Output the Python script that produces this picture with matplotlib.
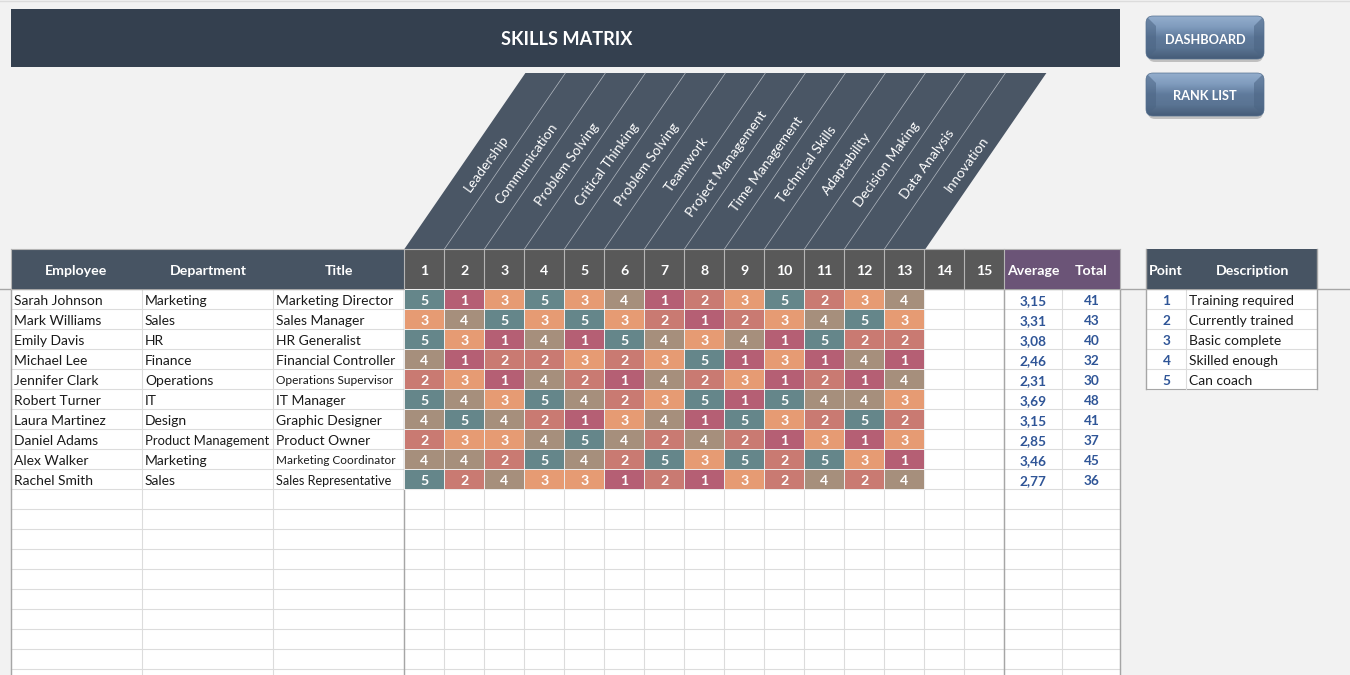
import numpy as np
import matplotlib
matplotlib.use('Agg')
import matplotlib.pyplot as plt
from matplotlib.colors import ListedColormap, BoundaryNorm, LinearSegmentedColormap
from matplotlib.patches import Rectangle, Polygon, FancyBboxPatch

plt.rcParams['font.family'] = ['Lato', 'DejaVu Sans']

employees = ['Sarah Johnson', 'Mark Williams', 'Emily Davis', 'Michael Lee', 'Jennifer Clark',
             'Robert Turner', 'Laura Martinez', 'Daniel Adams', 'Alex Walker', 'Rachel Smith']
departments = ['Marketing', 'Sales', 'HR', 'Finance', 'Operations',
               'IT', 'Design', 'Product Management', 'Marketing', 'Sales']
titles = ['Marketing Director', 'Sales Manager', 'HR Generalist', 'Financial Controller',
          'Operations Supervisor', 'IT Manager', 'Graphic Designer', 'Product Owner',
          'Marketing Coordinator', 'Sales Representative']
skills = ['Leadership', 'Communication', 'Problem Solving', 'Critical Thinking', 'Problem Solving',
          'Teamwork', 'Project Management', 'Time Management', 'Technical Skills', 'Adaptability',
          'Decision Making', 'Data Analysis', 'Innovation']
scores = [
    [5, 1, 3, 5, 3, 4, 1, 2, 3, 5, 2, 3, 4],
    [3, 4, 5, 3, 5, 3, 2, 1, 2, 3, 4, 5, 3],
    [5, 3, 1, 4, 1, 5, 4, 3, 4, 1, 5, 2, 2],
    [4, 1, 2, 2, 3, 2, 3, 5, 1, 3, 1, 4, 1],
    [2, 3, 1, 4, 2, 1, 4, 2, 3, 1, 2, 1, 4],
    [5, 4, 3, 5, 4, 2, 3, 5, 1, 5, 4, 4, 3],
    [4, 5, 4, 2, 1, 3, 4, 1, 5, 3, 2, 5, 2],
    [2, 3, 3, 4, 5, 4, 2, 4, 2, 1, 3, 1, 3],
    [4, 4, 2, 5, 4, 2, 5, 3, 5, 2, 5, 3, 1],
    [5, 2, 4, 3, 3, 1, 2, 1, 3, 2, 4, 2, 4],
]
averages = ['3,15', '3,31', '3,08', '2,46', '2,31', '3,69', '3,15', '2,85', '3,46', '2,77']
totals = [41, 43, 40, 32, 30, 48, 41, 37, 45, 36]
points = [1, 2, 3, 4, 5]
descriptions = ['Training required', 'Currently trained', 'Basic complete', 'Skilled enough', 'Can coach']
buttons = ['DASHBOARD', 'RANK LIST']

# Layout in pixels of the 1350x675 picture
col_x = [12, 143, 274, 405]
num_w = 40
num_x = np.arange(405, 1006, num_w)
avg_x = [1005, 1063, 1121]
row_h = 20
head_top, head_bot = 250, 290
rows_y = np.arange(head_bot, 691, row_h)
small_fonts = {'Operations Supervisor': 8.6, 'Marketing Coordinator': 8.5, 'Sales Representative': 9.1}

BG = '#f2f2f2'
HEAD = '#475463'
GRID = '#dcdcdc'
EDGE = '#a6a6a6'
BLUE = '#2f5597'
TXT = '#1a1a1a'

fig = plt.figure(figsize=(13.5, 6.75), dpi=100, facecolor=BG)
ax = fig.add_axes([0, 0, 1, 1])
ax.set_facecolor(BG)
ax.axis('off')

# thin line at the very top and the header line running past the tables
ax.plot([0, 1350], [2, 2], color='#dcdcdc', lw=1)
ax.plot([0, 1351], [head_bot, head_bot], color=EDGE, lw=1)

# title bar
ax.add_patch(Rectangle((11.6, 10), 1109, 58, color='#34404f', lw=0))
ax.text(567.5, 40.5, 'SKILLS MATRIX', color='white', fontsize=13.1, fontweight='bold', ha='center', va='center')

# slanted skill header
slant = 121
ax.add_patch(Polygon([(405, head_top), (405 + slant, 74), (926 + slant, 74), (926, head_top)],
                     closed=True, color='#4a5665', lw=0))
for i in range(1, len(skills)):
    x = 405 + i * num_w
    ax.plot([x, x + slant], [head_top, 74], color='#b4bac2', lw=0.5)
for i, s in enumerate(skills):
    ax.text(487.5 + i * num_w, 165, s, color='white', fontsize=10, rotation=54,
            rotation_mode='anchor', ha='center', va='center')

# table body
ax.add_patch(Rectangle((12, head_bot), 1109, 400, color='white', lw=0, zorder=1))
for y in rows_y:
    ax.plot([12, 1121], [y, y], color=GRID, lw=0.8, zorder=1.5)
for x in list(col_x[:3]) + list(num_x) + list(avg_x):
    ax.plot([x, x], [head_bot, 680], color=GRID, lw=0.8, zorder=1.5)
for x in [12, 405, 1005, 1121]:
    ax.plot([x, x], [head_bot, 680], color=EDGE, lw=1, zorder=1.6)

# header cells
ax.add_patch(Rectangle((12, head_top), 393, 40, color=HEAD, lw=0, zorder=2))
ax.add_patch(Rectangle((1005, head_top), 116, 40, color='#6b5477', lw=0, zorder=2))
ax.add_patch(Rectangle((405, head_top), 600, 40, facecolor='#595959', edgecolor='none', zorder=2))
for x in num_x:
    ax.plot([x, x], [head_top, head_bot], color='#b5b5b5', lw=0.8, zorder=3)
ax.plot([12, 1121], [head_top, head_top], color='#b5b5b5', lw=0.8, zorder=3)
ax.plot([12, 12], [head_top, head_bot], color='#b5b5b5', lw=0.8, zorder=3)
ax.plot([1121, 1121], [head_top, head_bot], color='#b5b5b5', lw=0.8, zorder=3)

for label, x in zip(['Employee', 'Department', 'Title'], [77, 209, 340]):
    ax.text(x, 272, label, color='white', fontsize=10.2, fontweight='bold', ha='center', va='center', zorder=4)
for i in range(15):
    ax.text(num_x[i] + num_w / 2, 272, str(i + 1), color='white', fontsize=10.2, fontweight='bold',
            ha='center', va='center', zorder=4)
ax.text(1034, 272, 'Average', color='white', fontsize=10.2, fontweight='bold', ha='center', va='center', zorder=4)
ax.text(1092, 272, 'Total', color='white', fontsize=10.2, fontweight='bold', ha='center', va='center', zorder=4)

# score cells
cmap = ListedColormap(['#b55f74', '#c97a72', '#e69b73', '#a68f7c', '#65868a'])
norm = BoundaryNorm([0.5, 1.5, 2.5, 3.5, 4.5, 5.5], 5)
ax.pcolormesh(num_x[:14], rows_y[:11], np.array(scores), cmap=cmap, norm=norm,
              edgecolors='#ececec', linewidth=0.5, zorder=2)

for r, row in enumerate(scores):
    yc = rows_y[r] + 12
    ax.text(14.6, yc, employees[r], color=TXT, fontsize=10, ha='left', va='center', zorder=4)
    ax.text(145.6, yc, departments[r], color=TXT, fontsize=9.4 if len(departments[r]) > 15 else 10,
            ha='left', va='center', zorder=4)
    ax.text(276.6, yc, titles[r], color=TXT, fontsize=small_fonts.get(titles[r], 10),
            ha='left', va='center', zorder=4)
    for c, v in enumerate(row):
        ax.text(num_x[c] + num_w / 2, yc, str(v), color='white', fontsize=10.2, fontweight='bold',
                ha='center', va='center', zorder=4)
    ax.text(1034, yc, averages[r], color=BLUE, fontsize=9.8, fontweight='bold', ha='center', va='center', zorder=4)
    ax.text(1092, yc, str(totals[r]), color=BLUE, fontsize=9.8, fontweight='bold', ha='center', va='center', zorder=4)

# legend table on the right
ax.add_patch(Rectangle((1147, head_bot), 171, 100, facecolor='white', edgecolor='none', zorder=1))
ax.add_patch(Rectangle((1147, head_top), 171, 40, color=HEAD, lw=0, zorder=2))
ax.text(1166.5, 272, 'Point', color='white', fontsize=10.2, fontweight='bold', ha='center', va='center', zorder=4)
ax.text(1253, 272, 'Description', color='white', fontsize=10.2, fontweight='bold', ha='center', va='center', zorder=4)
for i, (p, d) in enumerate(zip(points, descriptions)):
    y = head_bot + i * row_h
    ax.plot([1147, 1318], [y + row_h, y + row_h], color=GRID if i < 4 else EDGE, lw=0.8, zorder=1.5)
    ax.text(1167, y + 12, str(p), color=BLUE, fontsize=9.8, fontweight='bold', ha='center', va='center', zorder=4)
    ax.text(1189.6, y + 12, d, color=TXT, fontsize=10, ha='left', va='center', zorder=4)
ax.plot([1187, 1187], [head_bot, 390], color=GRID, lw=0.8, zorder=1.5)
ax.plot([1147, 1147], [head_top, 390], color=EDGE, lw=1, zorder=3)
ax.plot([1318, 1318], [head_top, 390], color=EDGE, lw=1, zorder=3)

# buttons: vertical shine plus bevelled sides
shine = LinearSegmentedColormap.from_list('shine', ['#93adcc', '#7f9bbd', '#5f7a9b', '#5a7493', '#465d79'])
for label, top in zip(buttons, [17, 74]):
    left = 1146.6
    shadow = FancyBboxPatch((left + 2, top + 3), 115, 43, boxstyle='round,pad=0,rounding_size=7',
                            facecolor='#b0b0b0', edgecolor='none', alpha=0.75, zorder=4)
    ax.add_patch(shadow)
    box = FancyBboxPatch((left, top), 118, 43, boxstyle='round,pad=0,rounding_size=7',
                         facecolor='none', edgecolor='#55708f', lw=0.5, zorder=6)
    ax.add_patch(box)
    im = ax.imshow(np.linspace(0, 1, 44).reshape(-1, 1), cmap=shine, aspect='auto',
                   extent=(left, left + 118, top + 43, top), zorder=5)
    im.set_clip_path(box)
    for pts in ([(left, top), (left + 10, top + 10), (left + 10, top + 34), (left, top + 43)],
                [(left + 118, top), (left + 108, top + 10), (left + 108, top + 34), (left + 118, top + 43)]):
        bevel = Polygon(pts, closed=True, facecolor='#4b6483', edgecolor='none', alpha=0.55, zorder=5.5)
        ax.add_patch(bevel)
        bevel.set_clip_path(box)
    ax.text(1205.5, top + 23.5, label, color='white', fontsize=9.2, fontweight='bold',
            ha='center', va='center', zorder=7)

ax.set_xlim(0.6, 1350.6)
ax.set_ylim(676, 1)

fig.savefig('out.png', dpi=100, facecolor=BG)
